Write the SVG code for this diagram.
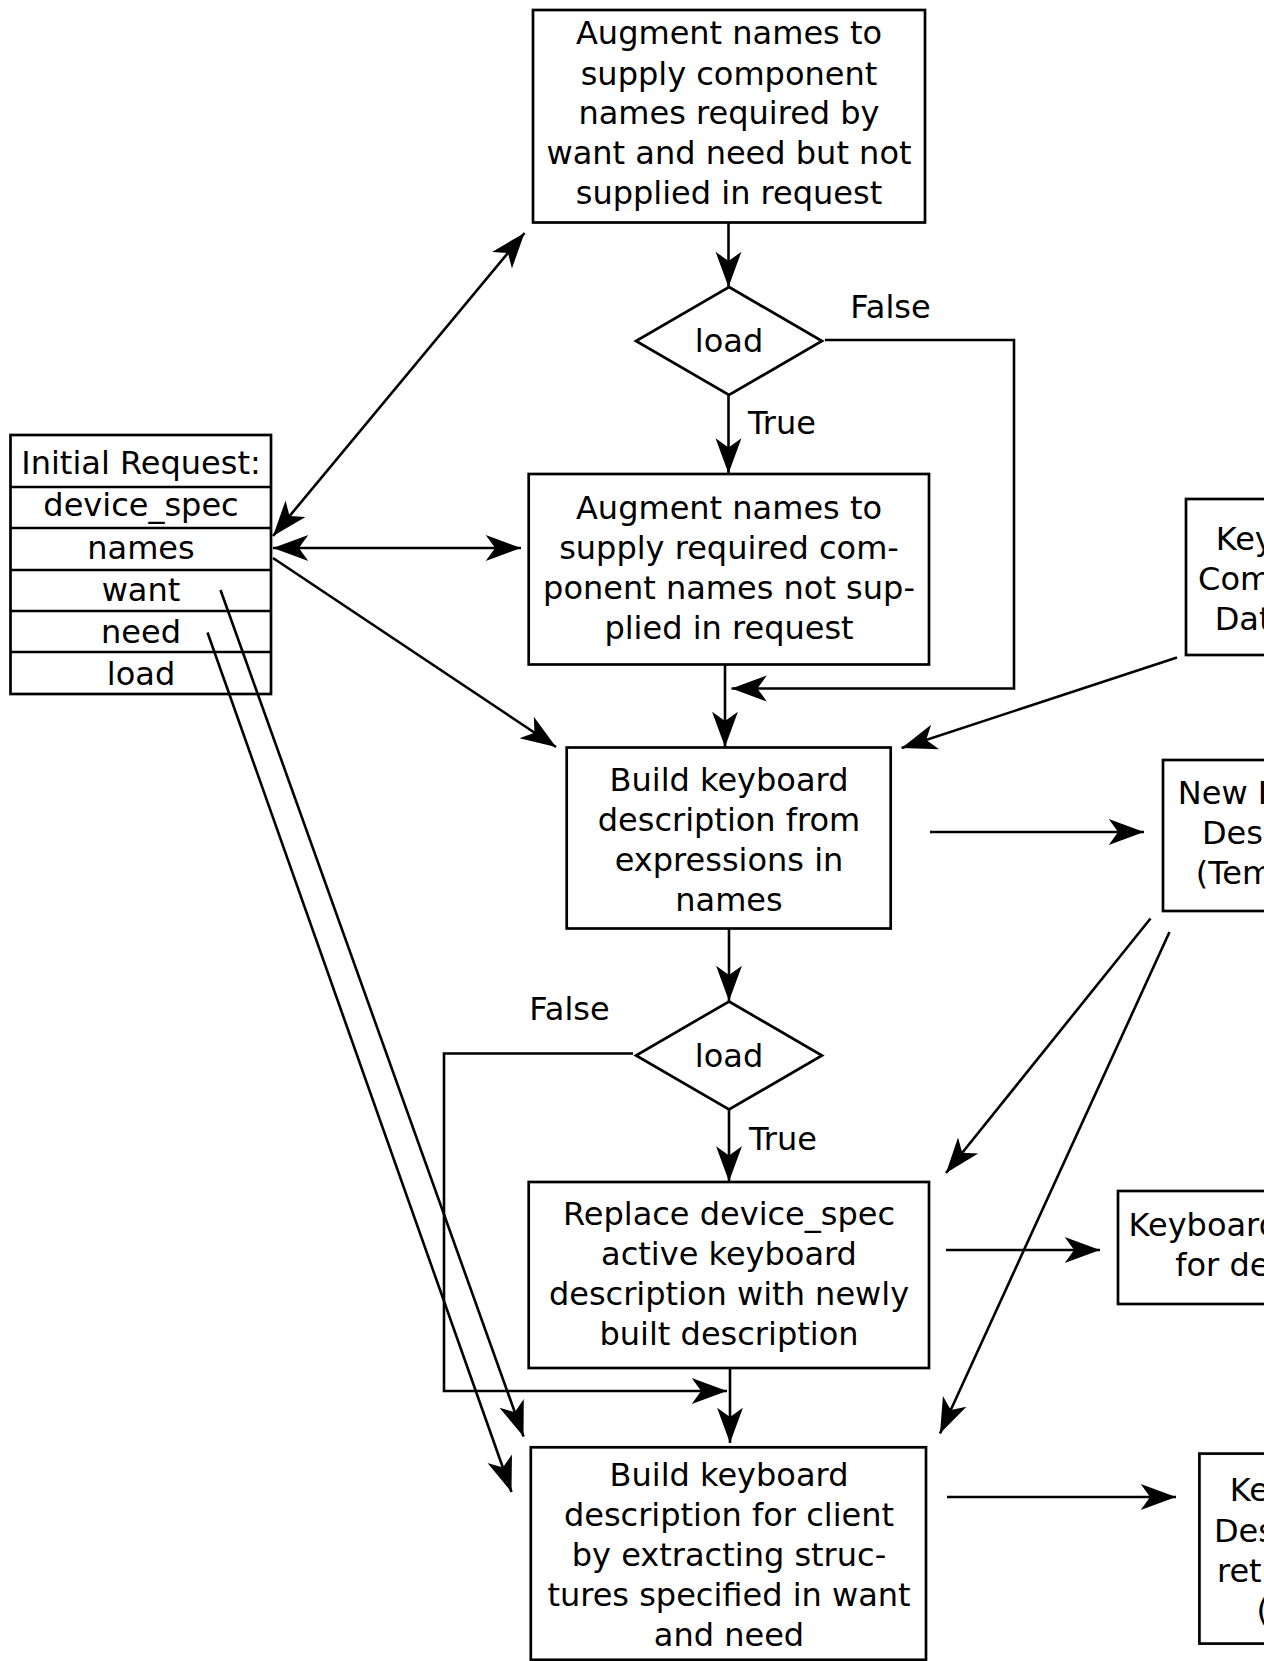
<svg xmlns="http://www.w3.org/2000/svg" width="1264" height="1661" viewBox="0 0 1264 1661">
  <style>
    .box { fill: #ffffff; stroke: #000000; stroke-width: 2.7; }
    .txt { font-family: "DejaVu Sans", "Liberation Sans", sans-serif; font-size: 32px; fill: #000000; text-anchor: middle; }
    .edge { fill: none; stroke: #000000; stroke-width: 2.6; }
    .arr { marker-end: url(#head); }
    .both { marker-start: url(#head); marker-end: url(#head); }
  </style>
  <defs>
    <marker id="head" markerUnits="userSpaceOnUse" markerWidth="40" markerHeight="30" viewBox="-32 -12 34 24" refX="0" refY="0" orient="auto-start-reverse">
      <path d="M0,0 L-30,-11 L-22,0 L-30,11 Z" fill="#000000"/>
    </marker>
  </defs>

  <rect width="1264" height="1661" fill="#ffffff"/>

  <!-- request record -->
  <g id="initial-request">
    <rect class="box" x="10.5" y="435" width="260.5" height="259"/>
    <line class="edge" x1="10.5" y1="487" x2="271" y2="487"/>
    <line class="edge" x1="10.5" y1="528" x2="271" y2="528"/>
    <line class="edge" x1="10.5" y1="570" x2="271" y2="570"/>
    <line class="edge" x1="10.5" y1="611" x2="271" y2="611"/>
    <line class="edge" x1="10.5" y1="652" x2="271" y2="652"/>
    <text class="txt" x="141" y="474">Initial Request:</text>
    <text class="txt" x="141" y="516">device_spec</text>
    <text class="txt" x="141" y="559">names</text>
    <text class="txt" x="141" y="601">want</text>
    <text class="txt" x="141" y="643">need</text>
    <text class="txt" x="141" y="684.5">load</text>
  </g>

  <g id="augment-names-1">
    <rect class="box" x="533" y="10" width="392" height="212.5"/>
    <text class="txt" x="729" y="44">Augment names to</text>
    <text class="txt" x="729" y="84.5">supply component</text>
    <text class="txt" x="729" y="124">names required by</text>
    <text class="txt" x="729" y="164">want and need but not</text>
    <text class="txt" x="729" y="204">supplied in request</text>
  </g>

  <g id="load-test-1">
    <polygon class="box" points="729,287 822,341 729,395 636,341"/>
    <text class="txt" x="729" y="352">load</text>
  </g>

  <g id="augment-names-2">
    <rect class="box" x="528.7" y="474" width="400.3" height="190.5"/>
    <text class="txt" x="729" y="519">Augment names to</text>
    <text class="txt" x="729" y="559">supply required com-</text>
    <text class="txt" x="729" y="598.5">ponent names not sup-</text>
    <text class="txt" x="729" y="638.5">plied in request</text>
  </g>

  <g id="build-description">
    <rect class="box" x="566.7" y="747.5" width="324" height="181"/>
    <text class="txt" x="729" y="791">Build keyboard</text>
    <text class="txt" x="729" y="831">description from</text>
    <text class="txt" x="729" y="870.5">expressions in</text>
    <text class="txt" x="729" y="910.5">names</text>
  </g>

  <g id="load-test-2">
    <polygon class="box" points="729,1001.5 822,1055.5 729,1109.5 636,1055.5"/>
    <text class="txt" x="729" y="1067">load</text>
  </g>

  <g id="replace-description">
    <rect class="box" x="528.7" y="1182" width="400.3" height="186"/>
    <text class="txt" x="729" y="1224.5">Replace device_spec</text>
    <text class="txt" x="729" y="1265">active keyboard</text>
    <text class="txt" x="729" y="1305">description with newly</text>
    <text class="txt" x="729" y="1344.5">built description</text>
  </g>

  <g id="build-client-description">
    <rect class="box" x="530.8" y="1447.3" width="395.2" height="212.5"/>
    <text class="txt" x="729" y="1486">Build keyboard</text>
    <text class="txt" x="729" y="1526">description for client</text>
    <text class="txt" x="729" y="1566">by extracting struc-</text>
    <text class="txt" x="729" y="1606">tures specified in want</text>
    <text class="txt" x="729" y="1646">and need</text>
  </g>

  <g id="component-database">
    <rect class="box" x="1186" y="499" width="210" height="156"/>
    <text class="txt" x="1291" y="550">Keyboard</text>
    <text class="txt" x="1291" y="590">Component</text>
    <text class="txt" x="1291" y="629.5">Database</text>
  </g>

  <g id="temporary-description">
    <rect class="box" x="1163" y="760" width="260" height="151"/>
    <text class="txt" x="1293" y="804">New Keyboard</text>
    <text class="txt" x="1293" y="844">Description</text>
    <text class="txt" x="1293" y="883.5">(Temporary)</text>
  </g>

  <g id="device-description">
    <rect class="box" x="1118" y="1191" width="364" height="113"/>
    <text class="txt" x="1300" y="1236">Keyboard Description</text>
    <text class="txt" x="1300" y="1275.5">for device_spec</text>
  </g>

  <g id="reply-description">
    <rect class="box" x="1199.4" y="1453.6" width="212" height="190"/>
    <text class="txt" x="1305" y="1501">Keyboard</text>
    <text class="txt" x="1305" y="1541.5">Description</text>
    <text class="txt" x="1307" y="1581.5">returned to</text>
    <text class="txt" x="1313" y="1621">(client)</text>
  </g>

  <!-- branch labels -->
  <g id="branch-labels">
    <text class="txt" x="890.5" y="318">False</text>
    <text class="txt" x="782" y="434">True</text>
    <text class="txt" x="569.5" y="1020">False</text>
    <text class="txt" x="783" y="1149.5">True</text>
  </g>

  <g id="connectors">
    <line class="edge both" x1="273" y1="536" x2="524.5" y2="233"/>
    <line class="edge both" x1="273" y1="548" x2="521" y2="548"/>
    <line class="edge arr" x1="273" y1="558" x2="556" y2="747"/>
    <line class="edge arr" x1="1177" y1="657.5" x2="901.6" y2="748"/>
    <line class="edge arr" x1="728.5" y1="223" x2="728.5" y2="287"/>
    <line class="edge arr" x1="728.5" y1="395" x2="728.5" y2="473.5"/>
    <polyline class="edge arr" points="825,340 1014,340 1014,688.5 731.5,688.5"/>
    <line class="edge arr" x1="725" y1="665" x2="725" y2="747"/>
    <line class="edge arr" x1="930" y1="832" x2="1144" y2="832"/>
    <line class="edge arr" x1="729" y1="929" x2="729" y2="1001"/>
    <line class="edge arr" x1="729" y1="1109.5" x2="729" y2="1181.5"/>
    <polyline class="edge arr" points="633,1053.5 444,1053.5 444,1391 727,1391"/>
    <line class="edge arr" x1="1150.5" y1="918.5" x2="946" y2="1173"/>
    <line class="edge arr" x1="1169.5" y1="932" x2="940" y2="1433.5"/>
    <line class="edge arr" x1="946" y1="1250" x2="1100" y2="1250"/>
    <line class="edge arr" x1="730" y1="1369" x2="730" y2="1443"/>
    <line class="edge arr" x1="220.5" y1="590" x2="523.5" y2="1436.5"/>
    <line class="edge arr" x1="207.5" y1="632.5" x2="511.5" y2="1492"/>
    <line class="edge arr" x1="947" y1="1497" x2="1176" y2="1497"/>
  </g>
</svg>
